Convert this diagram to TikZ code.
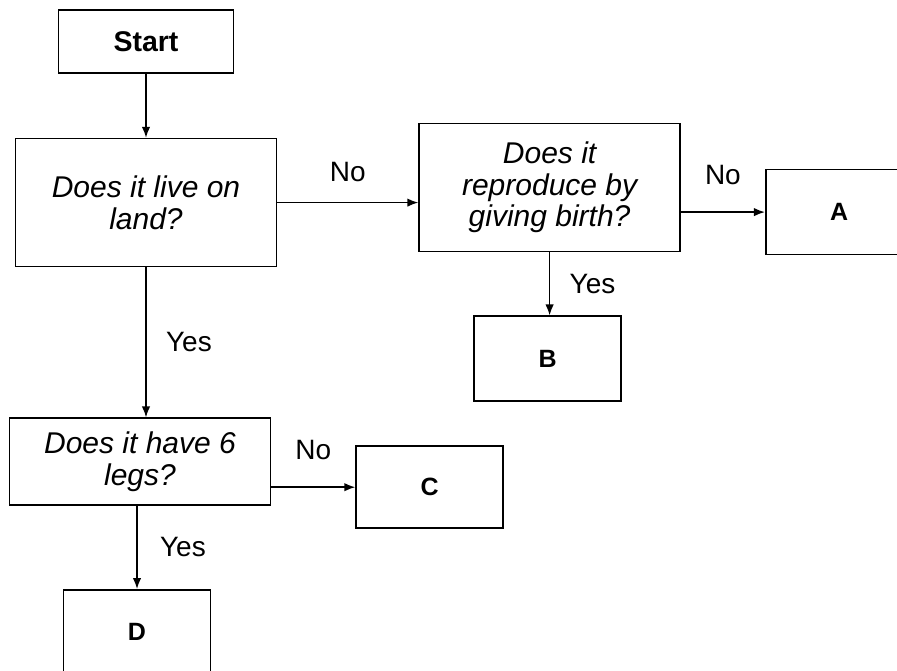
\documentclass[tikz,border=0pt]{standalone}
\usepackage{fontspec}
\setmainfont{Liberation Sans}
\usepackage{tikz}
\usetikzlibrary{arrows.meta}
\usetikzlibrary{positioning}
\tikzset{
    arrow/.style={-{Latex[length=11pt,width=8.5pt]}, line width=1.5pt},
    startbox/.style = {
      draw,
      line width=1.6pt,
      rectangle,
      minimum width=175pt,
      minimum height=63pt,
      font=\fontsize{28.5}{31}\selectfont\bfseries
    },
    question/.style = {
      draw,
      line width=1.6pt,
      rectangle,
      align=center,
      minimum width=261pt,
      minimum height=128pt,
      font=\fontsize{30}{31.5}\selectfont\itshape
    },
    leaf/.style = {
      draw,
      line width=1.6pt,
      rectangle,
      minimum width=147pt,
      minimum height=85pt,
      font=\fontsize{25}{28}\selectfont\bfseries
    },
    answer/.style = {
      font=\fontsize{28}{31}\selectfont
    },
}

\begin{document}
\begin{tikzpicture}
      \useasboundingbox (0,0) rectangle (897pt,-671pt);
      \clip (0,0) rectangle (897pt,-671pt);

      \node [startbox] (start) at (146pt,-41.5pt) {Start};

      \node [question, below=64pt of start] (land) {Does it live on\\land?};

      \node [
        question,
        right=141pt of land,
        yshift=15pt,
      ] (birth) {Does it\\reproduce by\\giving birth?};

      \node [leaf, right=84pt of birth, yshift=-24.5pt] (a) {A};
      \node [leaf, below=63pt of birth, xshift=-2pt] (b) {B};

      \node [
        question,
        minimum height=87pt,
        below=150pt of land,
        xshift=-6pt,
      ] (legs) {Does it have 6\\legs?};

      \node [leaf, minimum height=82pt, right=84pt of legs, yshift=-25.5pt] (c) {C};
      \node [leaf, below=83pt of legs, xshift=-3pt] (d) {D};

      \draw[arrow] (start) -- (land);
      \draw[arrow] (land.east) -- (land.east -| birth.west)
        node[answer, midway, above=17pt] (noland) {No};
      \draw[arrow] (a.west -| birth.east) -- (a.west)
        node[answer, midway, above=23.5pt] (nobirth) {No};
      \draw[arrow] (birth.south) -- (birth.south |- b.north)
        node[answer, midway, right=16pt] (yesbirth) {Yes};
      \draw[arrow] (land.south) -- (land.south |- legs.north)
        node[answer, midway, right=16pt] (yesland) {Yes};
      \draw[arrow] (c.west -| legs.east) -- (c.west)
        node[answer, midway, above=23pt] (nolegs) {No};
      \draw[arrow] (legs.south -| d.north) -- (d.north)
        node[answer, midway, right=19pt] (yeslegs) {Yes};
    \end{tikzpicture}
\end{document}
